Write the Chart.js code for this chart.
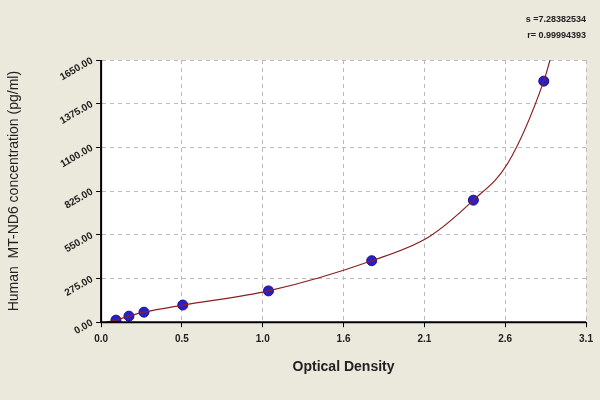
<!DOCTYPE html>
<html><head><script src="https://cdn.jsdelivr.net/npm/chart.js@4"></script>
<style>html,body{margin:0;background:#ebe8dc}#w{width:600px;height:400px}</style></head>
<body><div id="w"><canvas id="c"></canvas></div>
<script>
const odValues=[0.095,0.178,0.274,0.522,1.07,1.73,2.38,2.83];
const concValues=[13,38,63,108,197,387,768,1517];
const curveX=[0.03,0.095,0.178,0.274,0.522,1.07,1.73,2.1,2.38,2.6,2.83,2.87];
const curveY=[0,13,38,63,108,197,387,540,768,1000,1517,1650];
const xTickLabels=['0.0','0.5','1.0','1.6','2.1','2.6','3.1'];
const yTickLabels=['0.00','275.00','550.00','825.00','1100.00','1375.00','1650.00'];
const statLines=['s =7.28382534','r= 0.99994393'];
const bg={id:'bg',beforeDraw(ch){const {ctx,chartArea:a}=ch;ctx.save();ctx.fillStyle='#fff';ctx.fillRect(a.left,a.top,a.width,a.height);ctx.restore();},
afterDraw(ch){const {ctx,chartArea:a}=ch;ctx.save();ctx.strokeStyle='#000';ctx.lineWidth=2;
ctx.beginPath();ctx.moveTo(a.left,a.top);ctx.lineTo(a.left,a.bottom);ctx.lineTo(a.right,a.bottom);ctx.stroke();
ctx.fillStyle='#222';ctx.font='bold 9px Arial';ctx.textAlign='right';ctx.fillText(statLines[0],586,22);ctx.fillText(statLines[1],586,38);ctx.restore();}};
new Chart(document.getElementById('c'),{
type:'scatter',
data:{datasets:[
{data:curveX.map((x,i)=>({x,y:curveY[i]})),showLine:true,borderColor:'#8b2020',borderWidth:1.2,pointRadius:0,tension:0.4,cubicInterpolationMode:'monotone'},
{data:odValues.map((x,i)=>({x,y:concValues[i]})),pointRadius:5,backgroundColor:'#2a1ec8',borderColor:'#1a1090'}
]},
options:{responsive:true,maintainAspectRatio:false,animation:false,
layout:{padding:{top:60,right:14,left:2,bottom:20}},
plugins:{legend:{display:false},tooltip:{enabled:false}},
scales:{
x:{type:'linear',min:0,max:3.1,afterBuildTicks(s){s.ticks=xTickLabels.map((l,i)=>({value:3.1*i/6}));},
ticks:{callback:(v,i)=>xTickLabels[i],color:'#222',font:{family:'Arial',size:10,weight:'bold'},padding:6},
grid:{color:'#bbb',drawTicks:true,tickLength:5,tickColor:'#000'},border:{display:true,dash:[4,4],color:'#000'},
title:{display:true,text:'Optical Density',color:'#222',font:{family:'Arial',size:14,weight:'bold'},padding:{top:8}}},
y:{min:0,max:1650,afterBuildTicks(s){s.ticks=yTickLabels.map((l,i)=>({value:275*i}));},
ticks:{callback:(v,i)=>yTickLabels[i],color:'#222',font:{family:'Arial',size:10,weight:'bold'},maxRotation:30,minRotation:30,padding:4},
grid:{color:'#bbb',tickLength:5,tickColor:'#000'},border:{display:true,dash:[4,4],color:'#000'},
title:{display:true,text:'Human  MT-ND6 concentration (pg/ml)',color:'#222',font:{family:'Arial',size:14},padding:{bottom:28}}}
}},plugins:[bg]});
</script></body></html>
